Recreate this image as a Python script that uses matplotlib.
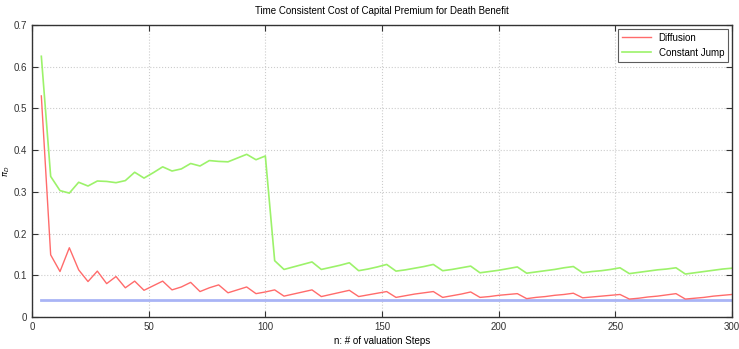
import numpy as np
import matplotlib
matplotlib.use("Agg")
import matplotlib.pyplot as plt

plt.rcParams['font.family'] = ['Liberation Sans Narrow', 'Liberation Sans', 'DejaVu Sans']

steps = list(range(4, 301, 4))
diffusion = [0.530, 0.149, 0.109, 0.166, 0.113, 0.085, 0.110, 0.080, 0.097, 0.070,
             0.086, 0.064, 0.075, 0.086, 0.065, 0.072, 0.083, 0.061, 0.070, 0.077,
             0.058, 0.065, 0.072, 0.056, 0.060, 0.065, 0.050, 0.055, 0.060, 0.065,
             0.049, 0.054, 0.059, 0.064, 0.049, 0.053, 0.057, 0.061, 0.047, 0.051,
             0.055, 0.058, 0.061, 0.047, 0.051, 0.055, 0.060, 0.047, 0.049, 0.052,
             0.054, 0.056, 0.044, 0.047, 0.049, 0.052, 0.054, 0.057, 0.046, 0.048,
             0.050, 0.052, 0.054, 0.043, 0.045, 0.048, 0.050, 0.053, 0.056, 0.043,
             0.045, 0.047, 0.050, 0.052, 0.054]
const_jump = [0.625, 0.337, 0.303, 0.297, 0.323, 0.314, 0.326, 0.325, 0.322, 0.327,
              0.347, 0.333, 0.346, 0.360, 0.350, 0.355, 0.368, 0.362, 0.375, 0.373,
              0.372, 0.381, 0.390, 0.377, 0.386, 0.135, 0.114, 0.120, 0.126, 0.132,
              0.114, 0.119, 0.124, 0.130, 0.111, 0.115, 0.120, 0.126, 0.110, 0.113,
              0.117, 0.121, 0.126, 0.111, 0.114, 0.118, 0.122, 0.106, 0.109, 0.112,
              0.116, 0.120, 0.105, 0.108, 0.111, 0.114, 0.118, 0.121, 0.106, 0.109,
              0.111, 0.114, 0.118, 0.104, 0.107, 0.110, 0.113, 0.115, 0.118, 0.103,
              0.106, 0.109, 0.112, 0.115, 0.117]
baseline = 0.04

fig = plt.figure(figsize=(7.39, 3.49), dpi=100)
ax = fig.add_axes([32/739, 32/349, 700/739, 292/349])

ax.plot(steps, [baseline]*len(steps), color="#a9b4f5", linewidth=2)
ax.plot(steps, diffusion, color="#ff6b6b", linewidth=1, label="Diffusion")
ax.plot(steps, const_jump, color="#9cf26a", linewidth=1.2, label="Constant Jump")

ax.set_xlim(0, 300)
ax.set_ylim(0, 0.7)
ax.set_xticks(range(0, 301, 50))
ax.set_yticks(np.arange(0, 0.71, 0.1))
ax.set_yticklabels(["0", "0.1", "0.2", "0.3", "0.4", "0.5", "0.6", "0.7"])
ax.tick_params(direction="in", top=True, right=True, length=4, labelsize=7, colors="#333333")
ax.grid(True, linestyle=":", color="#cccccc", linewidth=0.8)
for s in ax.spines.values():
    s.set_color("#333333")
    s.set_linewidth(1)

ax.set_title("Time Consistent Cost of Capital Premium for Death Benefit", fontsize=7, pad=8)
ax.set_xlabel("n: # of valuation Steps", fontsize=7, labelpad=3)
ax.set_ylabel(r"$\pi_D$", fontsize=6)
ax.yaxis.set_label_coords(-0.028, 0.5)

leg = ax.legend(loc="upper right", fontsize=7, frameon=True, fancybox=False,
                borderaxespad=0.4, handlelength=3)
leg.get_frame().set_edgecolor("#333333")
leg.get_frame().set_linewidth(0.8)

plt.savefig("out.png", dpi=100)
